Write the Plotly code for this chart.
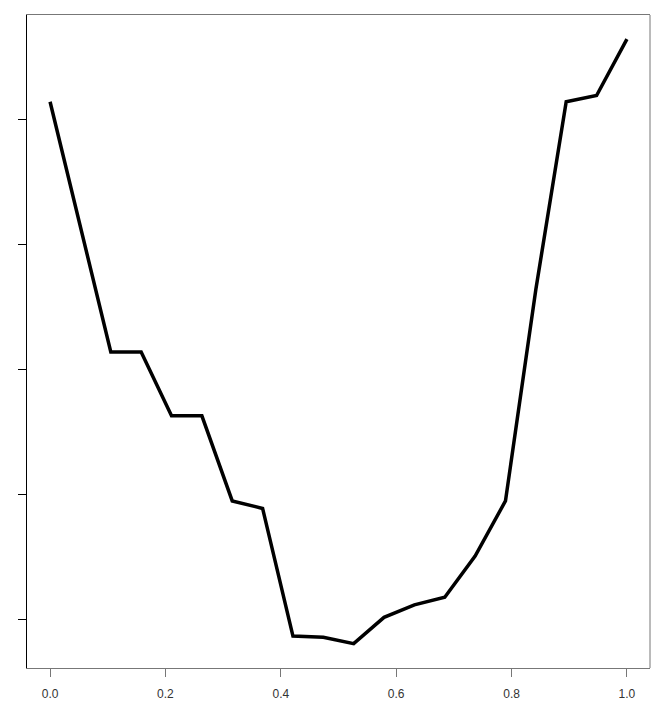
import plotly.graph_objects as go

# 20 equally spaced points on [0, 1]; y (unlabelled axis, ticks at 1..5)
x_vals = [i / 19 for i in range(20)]
y_vals = [5.14, 4.14, 3.14, 3.14, 2.63, 2.63, 1.95, 1.89, 0.87, 0.86,
          0.81, 1.02, 1.12, 1.18, 1.51, 1.95, 3.64, 5.14, 5.19, 5.64]
x_ticks = [0.0, 0.2, 0.4, 0.6, 0.8, 1.0]
x_labels = ["0.0", "0.2", "0.4", "0.6", "0.8", "1.0"]
y_ticks = [1, 2, 3, 4, 5]

trace = go.Scatter(
    x=x_vals,
    y=y_vals,
    mode="lines",
    line=dict(color="black", width=3.5),
    showlegend=False,
)

# page body adds an 8px margin, so the figure is made 8px smaller on each axis
layout = go.Layout(
    width=656,
    height=696,
    margin=dict(l=19, r=14, t=7, b=36, autoexpand=False),
    paper_bgcolor="white",
    plot_bgcolor="white",
    font=dict(family="Liberation Sans, Arial", size=12, color="#333333"),
    xaxis=dict(
        range=[-0.04, 1.04],
        tickvals=x_ticks,
        ticktext=x_labels,
        ticks="outside",
        ticklen=8,
        tickcolor="#777777",
        ticklabelstandoff=7,
        showgrid=False,
        zeroline=False,
        showline=True,
        linecolor="#777777",
        linewidth=1,
        mirror=True,
        automargin=False,
    ),
    yaxis=dict(
        range=[0.615, 5.833],
        tickvals=y_ticks,
        showticklabels=False,
        ticks="outside",
        ticklen=8,
        tickcolor="black",
        showgrid=False,
        zeroline=False,
        showline=True,
        linecolor="black",
        linewidth=1,
        automargin=False,
    ),
    shapes=[
        dict(type="line", xref="paper", yref="paper", x0=1, x1=1, y0=0, y1=1,
             line=dict(color="#777777", width=1)),
    ],
)

fig = go.Figure(data=[trace], layout=layout)
fig.write_html("out.html")
